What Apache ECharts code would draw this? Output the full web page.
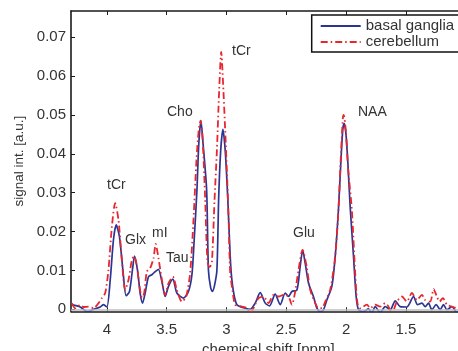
<!DOCTYPE html>
<html><head><meta charset="utf-8">
<script src="https://cdn.jsdelivr.net/npm/echarts@6/dist/echarts.min.js"></script>
<style>html,body{margin:0;padding:0;background:#fff}#c{width:458px;height:351px}</style>
</head><body><div id="c"></div>
<script>
// ---- data ----
const seriesNames = ['basal ganglia', 'cerebellum'];
const xTicks = [1.5, 2, 2.5, 3, 3.5, 4];
const yTicks = [0, 0.01, 0.02, 0.03, 0.04, 0.05, 0.06, 0.07];
const bgPpm = [4.293,4.223,4.162,4.112,4.056,4.028,4.000,3.972,3.945,3.922,3.895,3.866,3.839,3.811,3.783,3.769,3.744,3.722,3.702,3.680,3.652,3.624,3.596,3.569,3.538,3.513,3.485,3.448,3.415,3.360,3.318,3.289,3.270,3.247,3.232,3.214,3.195,3.166,3.151,3.132,3.117,3.099,3.080,3.065,3.048,3.030,3.011,2.990,2.965,2.944,2.913,2.844,2.802,2.760,2.718,2.676,2.640,2.593,2.551,2.509,2.482,2.453,2.411,2.384,2.363,2.342,2.314,2.273,2.244,2.217,2.189,2.161,2.119,2.091,2.064,2.045,2.028,2.016,2.000,1.982,1.966,1.938,1.916,1.896,1.855,1.813,1.784,1.757,1.715,1.673,1.631,1.589,1.548,1.492,1.436,1.403,1.366,1.339,1.311,1.283,1.247,1.213,1.186,1.157,1.115,1.074,1.030];
const bgVal = [0.0012,0.0006,-0.0006,0.0000,0.0006,0.0012,0.0006,0.0076,0.0179,0.0217,0.0187,0.0101,0.0035,0.0046,0.0110,0.0137,0.0101,0.0042,0.0016,0.0042,0.0084,0.0089,0.0097,0.0103,0.0068,0.0033,0.0059,0.0078,0.0042,0.0029,0.0046,0.0089,0.0179,0.0307,0.0423,0.0485,0.0423,0.0307,0.0101,0.0055,0.0046,0.0063,0.0101,0.0290,0.0410,0.0463,0.0410,0.0290,0.0114,0.0050,0.0012,0.0003,0.0000,0.0016,0.0043,0.0016,0.0009,0.0039,0.0012,0.0042,0.0033,0.0046,0.0050,0.0110,0.0152,0.0119,0.0067,0.0033,0.0003,-0.0006,-0.0001,0.0024,0.0059,0.0136,0.0256,0.0371,0.0461,0.0478,0.0448,0.0358,0.0264,0.0136,0.0033,-0.0001,-0.0006,0.0001,-0.0010,0.0007,-0.0008,0.0007,-0.0001,0.0022,0.0007,0.0006,0.0033,0.0012,0.0016,0.0007,0.0016,-0.0001,0.0012,-0.0001,0.0012,-0.0001,0.0007,-0.0008,0.0000];
const cbPpm = [4.293,4.265,4.223,4.196,4.154,4.112,4.070,4.042,4.014,3.987,3.958,3.931,3.903,3.875,3.847,3.819,3.791,3.772,3.749,3.727,3.707,3.688,3.666,3.638,3.610,3.592,3.569,3.540,3.513,3.485,3.448,3.415,3.373,3.337,3.304,3.276,3.251,3.232,3.217,3.199,3.178,3.159,3.140,3.122,3.100,3.080,3.061,3.044,3.028,3.011,2.994,2.982,2.969,2.950,2.927,2.871,2.829,2.802,2.774,2.732,2.691,2.649,2.607,2.565,2.523,2.482,2.453,2.426,2.398,2.364,2.328,2.300,2.258,2.231,2.202,2.174,2.133,2.091,2.064,2.045,2.027,2.020,2.003,1.982,1.952,1.924,1.905,1.882,1.826,1.798,1.757,1.715,1.673,1.645,1.617,1.575,1.533,1.492,1.450,1.408,1.366,1.339,1.297,1.268,1.241,1.219,1.191,1.157,1.115,1.074,1.030];
const cbVal = [0.0016,0.0003,0.0012,0.0006,0.0007,0.0003,0.0016,0.0029,0.0042,0.0101,0.0213,0.0273,0.0230,0.0127,0.0050,0.0076,0.0127,0.0137,0.0110,0.0059,0.0030,0.0042,0.0097,0.0106,0.0132,0.0168,0.0132,0.0076,0.0037,0.0067,0.0084,0.0050,0.0020,0.0033,0.0093,0.0230,0.0384,0.0461,0.0485,0.0435,0.0281,0.0122,0.0109,0.0122,0.0281,0.0410,0.0564,0.0662,0.0577,0.0461,0.0333,0.0230,0.0094,0.0050,0.0012,0.0007,0.0003,-0.0010,0.0003,0.0029,0.0033,0.0016,0.0037,0.0033,0.0037,0.0033,0.0012,0.0045,0.0101,0.0153,0.0107,0.0050,0.0016,0.0003,0.0003,0.0020,0.0050,0.0136,0.0256,0.0384,0.0492,0.0500,0.0461,0.0358,0.0256,0.0093,0.0016,0.0003,0.0012,0.0003,0.0012,0.0007,0.0016,0.0007,-0.0010,0.0020,0.0033,0.0020,0.0042,0.0024,0.0037,0.0024,0.0020,0.0052,0.0033,0.0020,0.0029,0.0012,0.0007,0.0003,0.0004];
const peakLabels = ['tCr', 'Glx', 'mI', 'Tau', 'Cho', 'tCr', 'Glu', 'NAA'];

// ---- chart ----
const FONT = '"Liberation Sans", Arial, Helvetica, sans-serif';
const TXT = '#333333';
const zip = (xs, ys) => xs.map((x, i) => [x, ys[i]]);
const labelPos = [[107,186],[125,241.5],[152,234],[166,259],[167,113],[232,52],[293,234],[358,113]];

const chart = echarts.init(document.getElementById('c'), null, {renderer: 'canvas'});
const axisCommon = {
  type: 'value', min: 1.0, max: 4.3, inverse: true,
  splitLine: {show: false},
  axisLine: {show: true, onZero: false, lineStyle: {color: '#1a1a1a', width: 1.6}},
  axisTick: {show: true, inside: true, length: 4, customValues: xTicks, lineStyle: {color: '#1a1a1a', width: 1}}
};
chart.setOption({
  animation: false,
  backgroundColor: '#ffffff',
  grid: {left: 71, top: 11, width: 394.7, height: 300.3, containLabel: false, outerBoundsMode: 'none'},
  xAxis: [
    Object.assign({}, axisCommon, {
      position: 'bottom',
      name: 'chemical shift [ppm]', nameLocation: 'middle', nameGap: 26,
      nameTextStyle: {fontFamily: FONT, fontSize: 15, color: TXT},
      axisLabel: {show: true, customValues: xTicks, margin: 11, fontFamily: FONT, fontSize: 15, color: TXT,
        formatter: v => String(v)}
    }),
    Object.assign({}, axisCommon, {position: 'top', axisLabel: {show: false}})
  ],
  yAxis: {
    type: 'value', min: -0.0005, max: 0.0767,
    splitLine: {show: false},
    axisLine: {show: true, onZero: false, lineStyle: {color: '#1a1a1a', width: 1.6}},
    axisTick: {show: true, inside: true, length: 4, customValues: yTicks, lineStyle: {color: '#1a1a1a', width: 1}},
    axisLabel: {show: true, customValues: yTicks, margin: 5, fontFamily: FONT, fontSize: 15, color: TXT,
      formatter: v => (Math.abs(v) < 1e-9 ? '0' : v.toFixed(2))},
    name: 'signal int. [a.u.]', nameLocation: 'middle', nameGap: 40, nameRotate: 90,
    nameTextStyle: {fontFamily: FONT, fontSize: 13.5, color: TXT}
  },
  legend: {
    left: 311.7, top: 15, orient: 'vertical',
    data: seriesNames,
    itemWidth: 40, itemHeight: 14, itemGap: 0,
    padding: [3, 10, 2, 8],
    borderColor: '#111', borderWidth: 1.5, backgroundColor: '#fff',
    itemStyle: {opacity: 0},
    textStyle: {fontFamily: FONT, fontSize: 15, color: TXT, lineHeight: 16}
  },
  series: [
    {
      name: seriesNames[0], type: 'line', data: zip(bgPpm, bgVal),
      symbol: 'none', smooth: 0.25, z: 3,
      lineStyle: {color: '#2b3594', width: 1.7},
      itemStyle: {color: '#2b3594'},
      markLine: {silent: true, symbol: 'none', label: {show: false},
        lineStyle: {color: '#bdbdbd', width: 1.5, type: 'solid'}, data: [{yAxis: 0}]}
    },
    {
      name: seriesNames[1], type: 'line', data: zip(cbPpm, cbVal),
      symbol: 'none', smooth: 0.25, z: 4,
      lineStyle: {color: '#e8262d', width: 1.8, type: [7, 3, 1.5, 3]},
      itemStyle: {color: '#e8262d'}
    }
  ],
  graphic: peakLabels.map((t, i) => ({
    type: 'text', left: labelPos[i][0], top: labelPos[i][1] - 8, z: 10,
    style: {text: t, fontFamily: FONT, fontSize: 14, fill: TXT}
  }))
});
</script>
</body></html>
